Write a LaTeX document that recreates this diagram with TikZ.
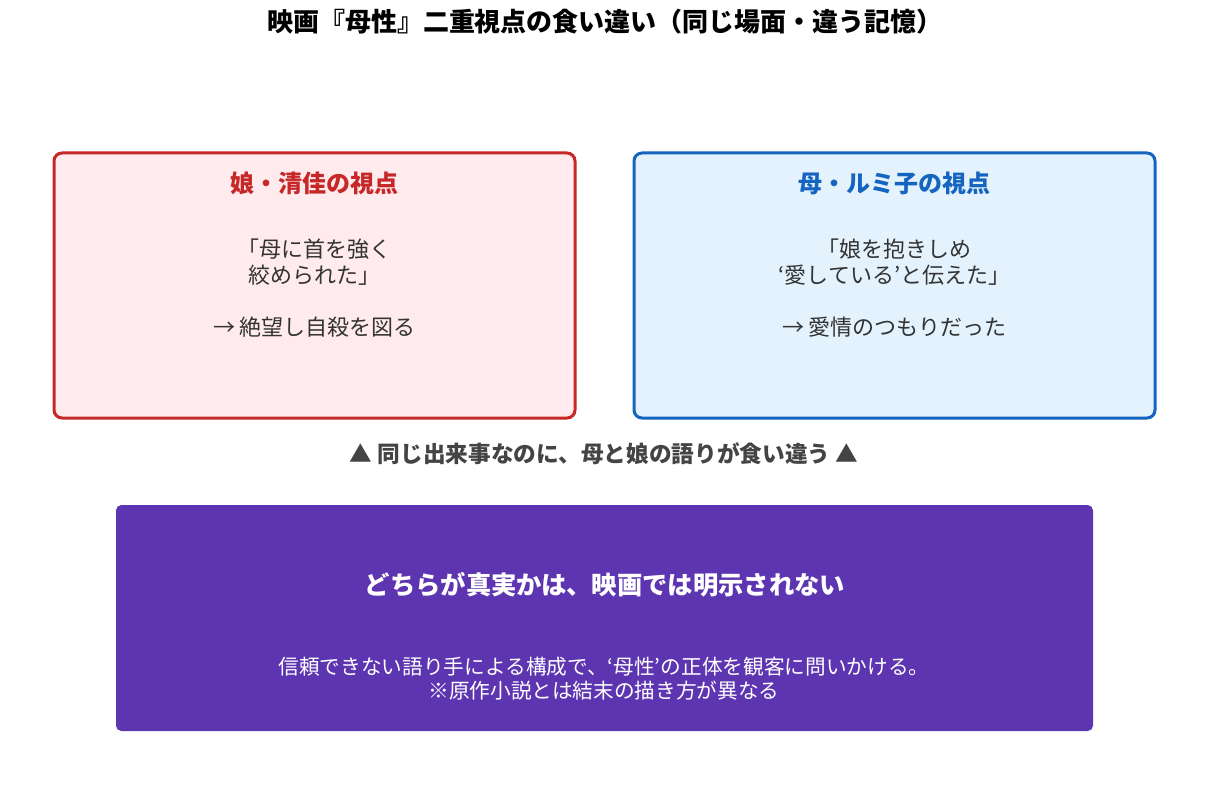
\documentclass[tikz,border=0pt]{standalone}
\usepackage{fontspec}
\setmainfont{Noto Sans CJK JP}
\definecolor{redline}{HTML}{C62828}
\definecolor{redfill}{HTML}{FFEBEE}
\definecolor{blueline}{HTML}{1565C0}
\definecolor{bluefill}{HTML}{E3F2FD}
\definecolor{purplefill}{HTML}{5E35B1}
\definecolor{bodytext}{HTML}{333333}
\definecolor{notetext}{HTML}{444444}
\tikzset{
  viewbox/.style={draw=#1, line width=2.25pt, rounded corners=6pt},
  headtext/.style={font=\fontsize{18}{22}\selectfont\bfseries, text=#1, inner sep=0pt},
  bodynode/.style={font=\fontsize{16.5}{19.5}\selectfont, text=bodytext, align=center, inner sep=0pt},
}
\begin{document}
\begin{tikzpicture}[x=0.75pt,y=-0.75pt]
\useasboundingbox (0,0) rectangle (1208,792);
\fill[white] (0,0) rectangle (1208,792);
% title
\node[font=\fontsize{19.5}{23}\selectfont\bfseries, text=black, inner sep=0pt] (title) at (605,22) {映画『母性』二重視点の食い違い（同じ場面・違う記憶）};
% left box
\draw[viewbox=redline, fill=redfill] (54,153) rectangle (575,418);
\node[headtext=redline] (lhead) at (314.5,183) {娘・清佳の視点};
\node[bodynode] (lbody) at (314.5,288) {「母に首を強く\\絞められた」\\[19.5pt]→ 絶望し自殺を図る};
% right box
\draw[viewbox=blueline, fill=bluefill] (634,153) rectangle (1155,418);
\node[headtext=blueline] (rhead) at (894.5,183) {母・ルミ子の視点};
\node[bodynode] (rbody) at (894.5,288) {「娘を抱きしめ\\‘愛している’と伝えた」\\[19.5pt]→ 愛情のつもりだった};
% note
\node[font=\fontsize{17}{20}\selectfont\bfseries, text=notetext, inner sep=0pt] (note) at (604,454) {▲ 同じ出来事なのに、母と娘の語りが食い違う ▲};
% purple box
\fill[purplefill, rounded corners=4pt] (116,505) rectangle (1093,731);
\node[font=\fontsize{19}{22}\selectfont\bfseries, text=white, inner sep=0pt] (phead) at (605,585) {どちらが真実かは、映画では明示されない};
\node[font=\fontsize{15.5}{18}\selectfont, text=white, align=center, inner sep=0pt] (pbody) at (604,679) {信頼できない語り手による構成で、‘母性’の正体を観客に問いかける。\\※原作小説とは結末の描き方が異なる};
\end{tikzpicture}
\end{document}
